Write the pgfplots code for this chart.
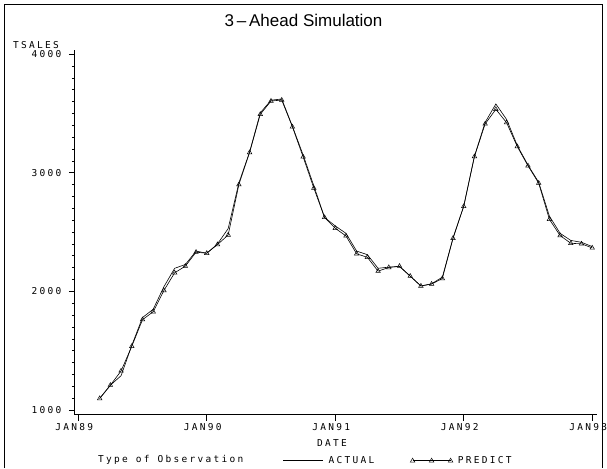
\documentclass[border=0pt]{standalone}
\usepackage{fontspec}
\setmainfont{Liberation Sans}
\newfontfamily\sasfont[LetterSpace=24]{DejaVu Sans Mono}
\newcommand\sas{\fontsize{9.5}{9.5}\sasfont}
\usepackage{pgfplots}
\pgfplotsset{compat=1.18}
\pgfplotsset{
  lineleg/.style={legend image code/.code={\draw[##1] (0pt,0pt) -- (40pt,0pt);}},
  trileg/.style={legend image code/.code={\draw[##1] plot coordinates {(2pt,0pt) (21pt,0pt) (40pt,0pt)};}},
}
\pgfplotstableread{
m actual predict
2 1098 1098
3 1210 1210
4 1290 1330
5 1546 1538
6 1780 1762
7 1850 1829
8 2040 2008
9 2195 2157
10 2227 2213
11 2340 2331
12 2322 2322
13 2400 2395
14 2530 2476
15 2915 2900
16 3175 3171
17 3505 3493
18 3612 3605
19 3622 3613
20 3392 3387
21 3150 3134
22 2890 2871
23 2624 2624
24 2552 2532
25 2490 2468
26 2340 2317
27 2310 2288
28 2195 2171
29 2205 2202
30 2210 2213
31 2129 2129
32 2046 2046
33 2065 2062
34 2120 2109
35 2450 2448
36 2720 2717
37 3140 3137
38 3425 3412
39 3580 3535
40 3450 3423
41 3230 3221
42 3065 3059
43 2920 2913
44 2635 2608
45 2490 2471
46 2430 2406
47 2414 2401
48 2378 2367
}\sales
\begin{document}
\begin{tikzpicture}[x=1pt,y=1pt]
\useasboundingbox (0,0) rectangle (607,468);
\draw[line width=0.8pt] (4.5,0) -- (4.5,463.5) -- (602.5,463.5) -- (602.5,0);
\node at (303.5,448) {\fontsize{17}{17}\selectfont 3\,--\,Ahead Simulation};
\node[anchor=east, inner sep=0pt] at (59,423) {\sas TSALES};
\node[inner sep=0pt] at (332,24.5) {\sas DATE};
\node[anchor=west, inner sep=0pt] at (98,8.5) {\sas Type of Observation};
\begin{axis}[
  at={(70,45)}, anchor=south west, scale only axis,
  width=522.3pt, height=364.5pt,
  xmin=-0.31, xmax=48.47, ymin=962, ymax=4034,
  axis x line=bottom, axis y line=left,
  axis line style={-, line width=1pt},
  tick align=outside,
  xtick={0,12,24,36,48},
  xticklabels={JAN89,JAN90,JAN91,JAN92,JAN93},
  ytick={1000,2000,3000,4000},
  minor y tick num=9,
  major tick length=6pt, minor tick length=3pt,
  tick style={black, line width=0.7pt},
  ticklabel style={font=\sas},
  xticklabel style={xshift=-4pt, yshift=1pt},
  yticklabel style={xshift=-4pt},
  /pgf/number format/assume math mode=true,
  yticklabel={\pgfmathprintnumber[fixed,1000 sep={}]{\tick}},
  legend style={draw=none, fill=none, at={(0.398,-0.1267)}, anchor=west,
    legend columns=2, font=\sas, nodes={inner sep=0pt},
    /tikz/every odd column/.append style={column sep=5pt},
    /tikz/every even column/.append style={column sep=36pt},
    inner sep=0pt},
]
\addplot[black, line width=0.6pt, no markers, lineleg]
  table[x=m, y=actual] {\sales};
\addlegendentry{ACTUAL}
\addplot[black, line width=0.6pt, mark=triangle, mark size=2.6pt,
  mark options={solid, line width=0.5pt}, trileg]
  table[x=m, y=predict] {\sales};
\addlegendentry{PREDICT}
\end{axis}
\end{tikzpicture}
\end{document}
